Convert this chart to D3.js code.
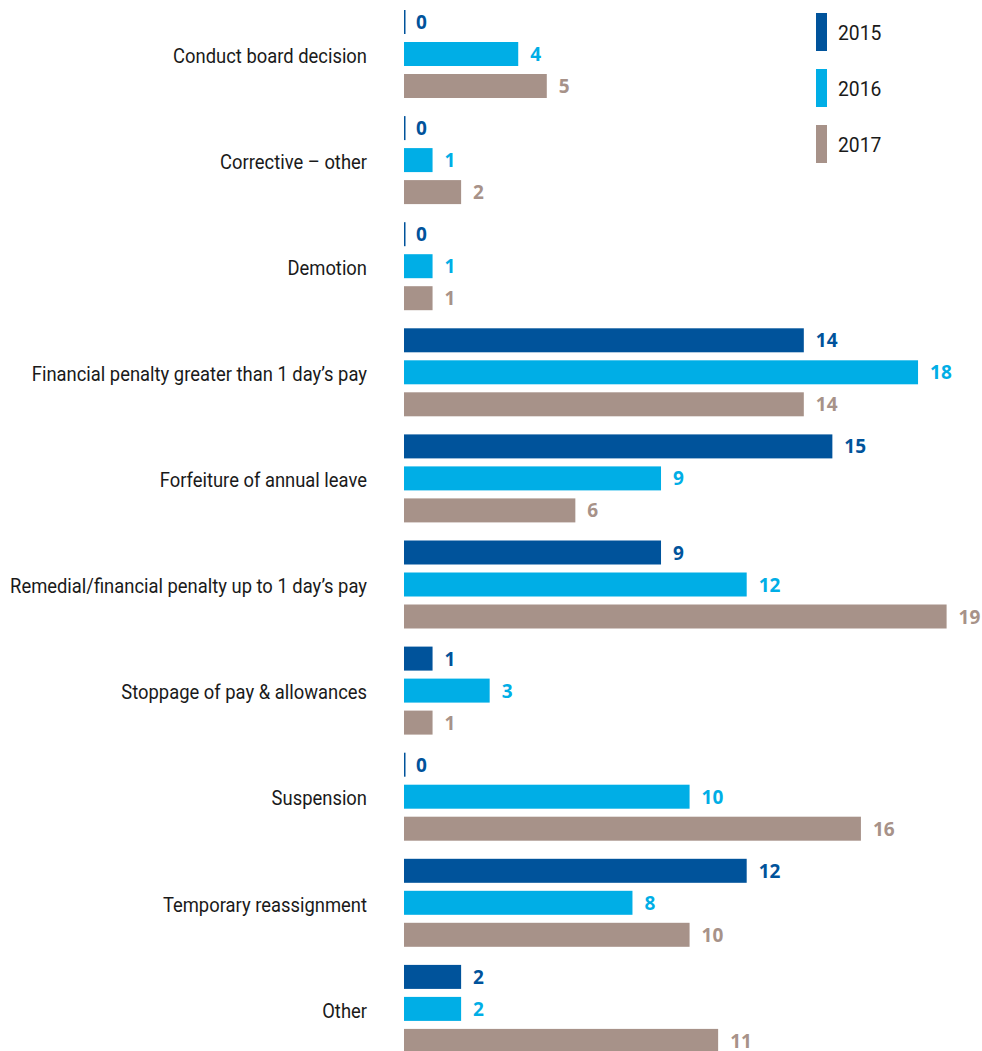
<!DOCTYPE html>
<html>
<head>
<meta charset="utf-8">
<script src="https://cdn.jsdelivr.net/npm/d3@7"></script>
<style>
  html, body { margin: 0; padding: 0; background: #ffffff; }
  .cat { font-family: "Roboto", "Liberation Sans", sans-serif; font-size: 20px; fill: #1a1a1a; }
  .val { font-family: "Open Sans", "Noto Sans", sans-serif; font-size: 19px; font-weight: 700; }
  .leg { font-family: "Roboto", "Liberation Sans", sans-serif; font-size: 21px; fill: #1a1a1a; }
</style>
</head>
<body>
<svg id="chart" width="982" height="1051"></svg>
<script>
// Disciplinary outcomes by year
const categories = [
  "Conduct board decision",
  "Corrective – other",
  "Demotion",
  "Financial penalty greater than 1 day’s pay",
  "Forfeiture of annual leave",
  "Remedial/financial penalty up to 1 day’s pay",
  "Stoppage of pay & allowances",
  "Suspension",
  "Temporary reassignment",
  "Other"
];
const years = ["2015", "2016", "2017"];
const values2015 = [0, 0, 0, 14, 15, 9, 1, 0, 12, 2];
const values2016 = [4, 1, 1, 18, 9, 12, 3, 10, 8, 2];
const values2017 = [5, 2, 1, 14, 6, 19, 1, 16, 10, 11];
const colors = ["#00539b", "#00aee6", "#a79289"];

const series = [values2015, values2016, values2017];

// horizontal squeeze giving the labels a condensed face
const condense = 0.92;

const svg = d3.select("#chart");

const groupStep = 106.1;
const y = d3.scaleBand()
  .domain(categories)
  .range([10, 10 + groupStep * categories.length])
  .padding(0);

const yInner = d3.scaleBand()
  .domain(years)
  .range([0, 88])
  .paddingInner(0.25)
  .paddingOuter(0);

const x = d3.scaleLinear()
  .domain([0, 19])
  .range([404, 946.6]);

const color = d3.scaleOrdinal().domain(years).range(colors);

const rows = categories.map((c, i) => ({
  category: c,
  bars: years.map((yr, j) => ({ year: yr, value: series[j][i] }))
}));

const groups = svg.selectAll("g.group")
  .data(rows)
  .join("g")
  .attr("class", "group")
  .attr("transform", d => `translate(0,${y(d.category)})`);

// Category label, centred on the middle bar
groups.append("g")
  .attr("transform", `translate(367,${yInner("2016") + yInner.bandwidth() / 2 + 2}) scale(${condense},1)`)
  .append("text")
  .attr("class", "cat")
  .attr("text-anchor", "end")
  .attr("dominant-baseline", "central")
  .text(d => d.category);

groups.selectAll("rect.bar")
  .data(d => d.bars)
  .join("rect")
  .attr("class", "bar")
  .attr("x", x(0))
  .attr("y", d => yInner(d.year))
  .attr("width", d => Math.max(x(d.value) - x(0), 1.5))
  .attr("height", yInner.bandwidth())
  .attr("fill", d => color(d.year));

groups.selectAll("text.val")
  .data(d => d.bars)
  .join("text")
  .attr("class", "val")
  .attr("x", d => x(d.value) + 12)
  .attr("y", d => yInner(d.year) + yInner.bandwidth() / 2)
  .attr("dominant-baseline", "central")
  .attr("fill", d => color(d.year))
  .text(d => d.value);

// Legend
const legend = svg.append("g")
  .selectAll("g")
  .data(years)
  .join("g")
  .attr("transform", (d, i) => `translate(816,${13 + i * 56})`);

legend.append("rect")
  .attr("width", 11)
  .attr("height", 38)
  .attr("fill", d => color(d));

legend.append("g")
  .attr("transform", `translate(22,20) scale(${condense},1)`)
  .append("text")
  .attr("class", "leg")
  .attr("dominant-baseline", "central")
  .text(d => d);
</script>
</body>
</html>
